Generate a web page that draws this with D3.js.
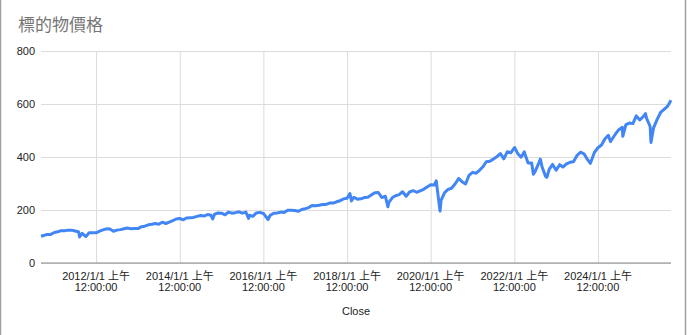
<!DOCTYPE html>
<html>
<head>
<meta charset="utf-8">
<script src="https://cdn.jsdelivr.net/npm/d3@7"></script>
<style>
  body { margin: 0; background: #fff; }
  svg text { font-family: Arial, "Liberation Sans", "Noto Sans CJK TC", sans-serif; }
</style>
</head>
<body>
<script>
var w = 688; // Width of the chart
var h = 335; // Height of the chart
var margin = { left: 41, right: 17, top: 51, bottom: 72 };

// Data (month starts plus a few dips / peaks)
var dates = [
  "2010-09-07","2010-10-01","2010-11-01","2010-12-01",
  "2011-01-01","2011-02-01","2011-03-01","2011-04-01","2011-05-01","2011-06-01","2011-07-01","2011-08-01","2011-08-10","2011-09-01","2011-10-04","2011-11-01","2011-12-01",
  "2012-01-01","2012-02-01","2012-03-01","2012-04-01","2012-05-01","2012-06-01","2012-07-01","2012-08-01","2012-09-01","2012-10-01","2012-11-01","2012-12-01",
  "2013-01-01","2013-02-01","2013-03-01","2013-04-01","2013-05-01","2013-06-01","2013-07-01","2013-08-01","2013-09-01","2013-10-01","2013-11-01","2013-12-01",
  "2014-01-01","2014-02-01","2014-03-01","2014-04-01","2014-05-01","2014-06-01","2014-07-01","2014-08-01","2014-09-01","2014-10-01","2014-10-15","2014-11-01","2014-12-01",
  "2015-01-01","2015-02-01","2015-03-01","2015-04-01","2015-05-01","2015-06-01","2015-07-01","2015-08-01","2015-08-25","2015-09-01","2015-10-01","2015-11-01","2015-12-01",
  "2016-01-01","2016-02-11","2016-03-01","2016-04-01","2016-05-01","2016-06-01","2016-07-01","2016-08-01","2016-09-01","2016-10-01","2016-11-01","2016-12-01",
  "2017-01-01","2017-02-01","2017-03-01","2017-04-01","2017-05-01","2017-06-01","2017-07-01","2017-08-01","2017-09-01","2017-10-01","2017-11-01","2017-12-01",
  "2018-01-01","2018-01-26","2018-02-08","2018-03-01","2018-04-01","2018-05-01","2018-06-01","2018-07-01","2018-08-01","2018-09-01","2018-10-01","2018-11-01","2018-12-01","2018-12-24",
  "2019-01-01","2019-02-01","2019-03-01","2019-04-01","2019-05-01","2019-06-01","2019-07-01","2019-08-01","2019-09-01","2019-10-01","2019-11-01","2019-12-01",
  "2020-01-01","2020-02-01","2020-02-19","2020-03-01","2020-03-23","2020-04-01","2020-05-01","2020-06-01","2020-07-01","2020-08-01","2020-09-01","2020-10-01","2020-11-01","2020-12-01",
  "2021-01-01","2021-02-01","2021-03-01","2021-04-01","2021-05-01","2021-06-01","2021-07-01","2021-08-01","2021-09-01","2021-10-01","2021-11-01","2021-12-01",
  "2022-01-03","2022-02-01","2022-03-01","2022-03-29","2022-04-01","2022-05-01","2022-06-01","2022-06-16","2022-07-01","2022-08-01","2022-08-16","2022-09-01","2022-10-01","2022-10-12","2022-11-01","2022-12-01",
  "2023-01-01","2023-02-01","2023-03-01","2023-04-01","2023-05-01","2023-06-01","2023-07-01","2023-08-01","2023-09-01","2023-10-01","2023-10-27","2023-11-01","2023-12-01",
  "2024-01-01","2024-02-01","2024-03-01","2024-04-01","2024-04-19","2024-05-01","2024-06-01","2024-07-01","2024-08-01","2024-08-05","2024-09-01","2024-10-01","2024-11-01","2024-12-01",
  "2025-01-01","2025-02-01","2025-02-19","2025-03-01","2025-04-01","2025-04-08","2025-05-01","2025-06-01","2025-07-01","2025-08-01","2025-09-01","2025-09-30"
];
var closes = [
  101,104,108,108,
  115,118,122,122,124,124,121,118,98,112,100,114,114,
  114,120,125,129,128,120,124,126,129,132,129,130,
  130,137,139,144,146,149,146,154,149,154,160,166,
  168,163,170,171,172,176,179,177,183,180,166,184,189,
  188,182,192,188,190,193,188,192,168,180,176,189,191,
  187,164,180,188,189,192,191,199,199,198,195,202,
  205,209,217,216,218,221,221,226,226,231,235,242,
  244,262,234,248,241,242,247,248,257,265,266,247,252,212,
  229,247,254,258,269,252,268,273,267,272,278,287,
  295,294,310,271,196,236,265,278,282,298,319,307,298,331,
  342,339,349,363,382,384,392,401,413,393,420,416,
  436,412,399,420,414,377,377,335,345,376,392,361,327,323,353,372,
  350,371,362,374,380,382,405,418,412,391,376,382,417,
  435,445,468,482,458,466,486,503,512,478,522,528,526,555,
  540,553,564,546,515,455,510,542,568,580,592,614
];

// Tick values
var yTicks = [0, 200, 400, 600, 800];
var xTickYears = [2012, 2014, 2016, 2018, 2020, 2022, 2024];

var title = "標的物價格";
var xTitle = "Close";

var parse = d3.timeParse("%Y-%m-%d");
var data = dates.map(function(d, i) {
  return { date: parse(d), close: closes[i] };
});

// Create scales
var xScale = d3.scaleTime()
  .domain(d3.extent(data, function(d) { return d.date; }))
  .range([margin.left, w - margin.right]);

var yScale = d3.scaleLinear()
  .domain([0, 800])
  .range([h - margin.bottom, margin.top]);

// Create SVG element
var svg1 = d3.select("body")
  .append("svg")
  .attr("width", w)
  .attr("height", h);

// Chart frame edges
svg1.append("line")
  .attr("x1", 0.5).attr("x2", 0.5).attr("y1", 0).attr("y2", h)
  .attr("stroke", "#a0a0a0").attr("stroke-width", 1.5);
svg1.append("line")
  .attr("x1", 685.5).attr("x2", 685.5).attr("y1", 0).attr("y2", h)
  .attr("stroke", "#a0a0a0").attr("stroke-width", 1.5);

// Title
svg1.append("text")
  .attr("x", 18)
  .attr("y", 31)
  .attr("font-size", 17)
  .attr("fill", "#757575")
  .text(title);

// Horizontal gridlines
var yAxis = d3.axisLeft(yScale)
  .tickValues(yTicks)
  .tickSize(-(w - margin.left - margin.right))
  .tickPadding(6);

var gy = svg1.append("g")
  .attr("class", "y-axis")
  .attr("transform", "translate(" + margin.left + ",0)")
  .call(yAxis);
gy.select(".domain").remove();
gy.selectAll("line").attr("stroke", "#dcdcdc");
gy.selectAll("text")
  .attr("font-size", 11)
  .attr("fill", "#222")
  .attr("x", -6);

// Vertical gridlines and date labels
var xTicks = xTickYears.map(function(y) { return new Date(y, 0, 1); });
var xAxis = d3.axisBottom(xScale)
  .tickValues(xTicks)
  .tickSize(-(h - margin.top - margin.bottom))
  .tickFormat("");

var gx = svg1.append("g")
  .attr("class", "x-axis")
  .attr("transform", "translate(0," + (h - margin.bottom) + ")")
  .call(xAxis);
gx.select(".domain").remove();
gx.selectAll("line").attr("stroke", "#dcdcdc");

var fmt = d3.timeFormat("%Y/%-m/%-d");
var labels = svg1.append("g").selectAll("text")
  .data(xTicks)
  .join("text")
  .attr("text-anchor", "middle")
  .attr("font-size", 11)
  .attr("fill", "#222")
  .attr("transform", function(d) { return "translate(" + xScale(d) + ",0)"; });
labels.append("tspan").attr("x", 0).attr("y", h - margin.bottom + 17)
  .text(function(d) { return fmt(d) + " 上午"; });
labels.append("tspan").attr("x", 0).attr("y", h - margin.bottom + 28)
  .text("12:00:00");

// Baseline at zero
svg1.append("line")
  .attr("x1", margin.left).attr("x2", w - margin.right)
  .attr("y1", yScale(0)).attr("y2", yScale(0))
  .attr("stroke", "#888").attr("stroke-width", 1);

// The price line
var line = d3.line()
  .x(function(d) { return xScale(d.date); })
  .y(function(d) { return yScale(d.close); });

svg1.append("path")
  .datum(data)
  .attr("fill", "none")
  .attr("stroke", "#4285f4")
  .attr("stroke-width", 3)
  .attr("stroke-linejoin", "round")
  .attr("d", line);

// x-axis title
svg1.append("text")
  .attr("text-anchor", "middle")
  .attr("x", (margin.left + w - margin.right) / 2)
  .attr("y", 315)
  .attr("font-size", 11)
  .attr("fill", "#222")
  .text(xTitle);
</script>
</body>
</html>
